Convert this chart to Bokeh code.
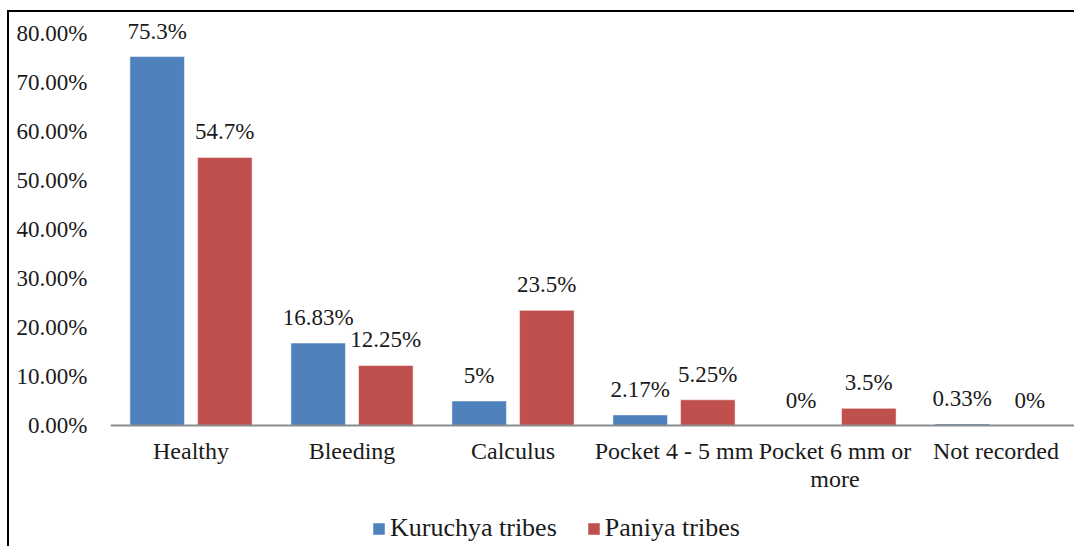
from bokeh.plotting import figure
from bokeh.models import (ColumnDataSource, Range1d, NumeralTickFormatter, FixedTicker,
                          Legend, LegendItem, Span)
from bokeh.transform import dodge
from bokeh.core.properties import value
from bokeh.embed import file_html
from bokeh.resources import INLINE

categories = ["Healthy", "Bleeding", "Calculus", "Pocket 4 - 5 mm", "Pocket 6 mm or more", "Not recorded"]
category_line1 = ["Healthy", "Bleeding", "Calculus", "Pocket 4 - 5 mm", "Pocket 6 mm or", "Not recorded"]
category_line2 = ["", "", "", "", "more", ""]
kuruchya = [75.3, 16.83, 5, 2.17, 0, 0.33]
paniya = [54.7, 12.25, 23.5, 5.25, 3.5, 0]
series_names = ["Kuruchya tribes", "Paniya tribes"]
y_ticks = [0, 10, 20, 30, 40, 50, 60, 70, 80]

FONT = value("Liberation Serif")
TXT = "#1a1a1a"

source = ColumnDataSource(dict(
    cat=categories,
    line1=category_line1,
    line2=category_line2,
    zero=[0] * len(categories),
    k=[v / 100 for v in kuruchya],
    p=[v / 100 for v in paniya],
    klab=[f"{v:g}%" for v in kuruchya],
    plab=[f"{v:g}%" for v in paniya],
))

p = figure(x_range=categories, y_range=Range1d(-0.2510, 0.8388),
           width=1067, height=536, output_backend="svg", toolbar_location=None,
           min_border_left=101, min_border_top=2, min_border_right=0, min_border_bottom=0)
p.styles = {"border-top": "2px solid black", "border-left": "2px solid black",
            "margin-left": "7px", "margin-top": "10px"}
p.outline_line_color = None
p.xgrid.visible = False
p.ygrid.visible = False
p.xaxis.visible = False

bw = 0.339
off = 0.21
rb = p.vbar(x=dodge("cat", -off, range=p.x_range), top="k", width=bw, source=source,
            fill_color="#4F81BD", line_color="white", line_width=0.5)
rr = p.vbar(x=dodge("cat", off, range=p.x_range), top="p", width=bw, source=source,
            fill_color="#C0504D", line_color="white", line_width=0.5)

# category axis baseline
p.add_layout(Span(location=0, dimension="width", line_color="#8c8c8c", line_width=2))

p.text(x=dodge("cat", -off, range=p.x_range), y="k", text="klab", source=source,
       text_align="center", text_baseline="bottom", y_offset=-13,
       text_font=FONT, text_font_size="23px", text_color=TXT)
p.text(x=dodge("cat", off, range=p.x_range), y="p", text="plab", source=source,
       text_align="center", text_baseline="bottom", y_offset=-13,
       text_font=FONT, text_font_size="23px", text_color=TXT)

# category labels (two lines)
p.text(x="cat", y="zero", text="line1", source=source,
       text_align="center", text_baseline="top", y_offset=12,
       text_font=FONT, text_font_size="24px", text_color=TXT)
p.text(x="cat", y="zero", text="line2", source=source,
       text_align="center", text_baseline="top", y_offset=40,
       text_font=FONT, text_font_size="24px", text_color=TXT)

p.yaxis.ticker = FixedTicker(ticks=[t / 100 for t in y_ticks])
p.yaxis.formatter = NumeralTickFormatter(format="0.00%")
p.yaxis.axis_line_color = None
p.yaxis.major_tick_line_color = None
p.yaxis.minor_tick_line_color = None
p.yaxis.major_label_standoff = 17
p.yaxis.major_label_text_font = "Liberation Serif"
p.yaxis.major_label_text_font_size = "23px"
p.yaxis.major_label_text_color = TXT

legend = Legend(items=[LegendItem(label=series_names[0], renderers=[rb]),
                       LegendItem(label=series_names[1], renderers=[rr])],
                orientation="horizontal", location=(261, 5),
                glyph_width=15, glyph_height=15, label_standoff=4, spacing=29,
                label_height=25,
                label_text_font="Liberation Serif", label_text_font_size="26px",
                label_text_color=TXT, border_line_color=None, background_fill_alpha=0,
                padding=0, margin=0)
p.add_layout(legend, "center")

open("out.html", "w").write(file_html(p, INLINE))
